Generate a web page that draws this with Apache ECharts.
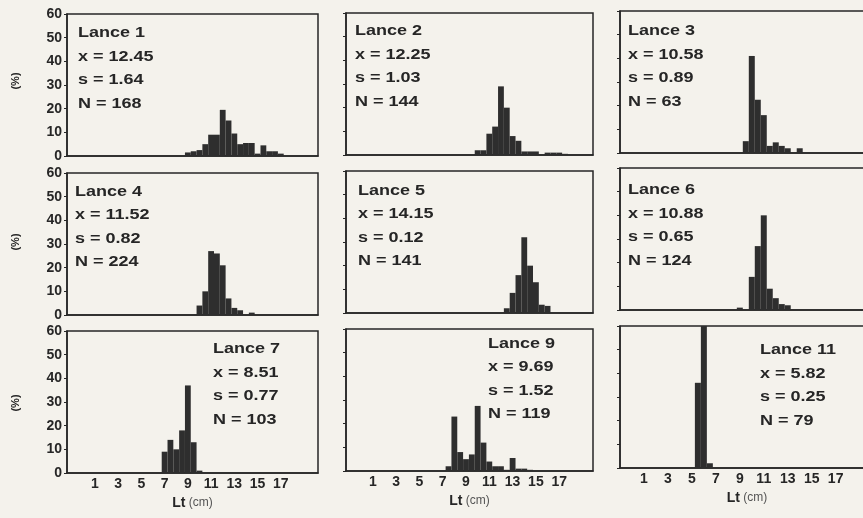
<!DOCTYPE html>
<html>
<head>
<meta charset="utf-8">
<script src="https://cdn.jsdelivr.net/npm/echarts@6/dist/echarts.min.js"></script>
<style>
  html, body { margin: 0; padding: 0; background: #f4f2ec; }
  #chart { width: 863px; height: 518px; }
</style>
</head>
<body>
<div id="chart"></div>
<script>
// Length-frequency distributions (% per 0.5 cm class) for each haul.
// Each pair is [length class centre (cm), percentage].
const lance1  = [[9, 1.5], [9.5, 2], [10, 2.5], [10.5, 5], [11, 9], [11.5, 9], [12, 19.5], [12.5, 15], [13, 9.5], [13.5, 5], [14, 5.5], [14.5, 5.5], [15, 1], [15.5, 4.5], [16, 2], [16.5, 2], [17, 1]];
const lance2  = [[10, 2], [10.5, 2], [11, 9], [11.5, 12], [12, 29], [12.5, 20], [13, 8], [13.5, 6], [14, 1.5], [14.5, 1.5], [15, 1.5], [16, 1], [16.5, 1], [17, 1], [17.5, 0.5]];
const lance3  = [[9.5, 5], [10, 41], [10.5, 22.5], [11, 16], [11.5, 3], [12, 4.5], [12.5, 3], [13, 2], [14, 2]];
const lance4  = [[10, 4], [10.5, 10], [11, 27], [11.5, 26], [12, 21], [12.5, 7], [13, 3], [13.5, 2], [14.5, 1]];
const lance5  = [[12.5, 2], [13, 8.5], [13.5, 16], [14, 32], [14.5, 20], [15, 13], [15.5, 3.5], [16, 3]];
const lance6  = [[9, 1], [10, 14], [10.5, 27], [11, 40], [11.5, 9], [12, 5], [12.5, 2.5], [13, 2]];
const lance7  = [[7, 9], [7.5, 14], [8, 10], [8.5, 18], [9, 37], [9.5, 13], [10, 1]];
const lance9  = [[7.5, 2], [8, 23], [8.5, 8], [9, 5], [9.5, 7], [10, 27.5], [10.5, 12], [11, 4], [11.5, 2], [12, 2], [12.5, 0.5], [13, 5.5], [13.5, 1], [14, 1], [14.5, 0.5]];
const lance11 = [[5.5, 36], [6, 60], [6.5, 2]];

// Summary statistics printed in each panel
const haulNames = ['Lance 1', 'Lance 2', 'Lance 3', 'Lance 4', 'Lance 5', 'Lance 6', 'Lance 7', 'Lance 9', 'Lance 11'];
const haulMeans = [12.45, 12.25, 10.58, 11.52, 14.15, 10.88, 8.51, 9.69, 5.82];
const haulSDs   = [1.64, 1.03, 0.89, 0.82, 0.12, 0.65, 0.77, 1.52, 0.25];
const haulNs    = [168, 144, 63, 224, 141, 124, 103, 119, 79];

// Axis ticks
const lengthTicks = [1, 3, 5, 7, 9, 11, 13, 15, 17];
const pctMax = 60;
const pctStep = 10;
const classWidth = 0.5;

const panels = [lance1, lance2, lance3, lance4, lance5, lance6, lance7, lance9, lance11];

// Layout of the 3x3 panel grid (pixels)
const colLeft  = [67, 346, 620];
const colWidth = [251, 247, 254];
const colMin   = [-1.4, -1.3, -1.0];
const colMax   = [20.2, 19.9, 20.2];
const rowTop   = [[14, 173, 331], [13, 171, 329], [11, 168, 326]]; // per column
const plotH    = 142;

// Stats text block placement (left edge, centre of first line)
const textX = [78, 355, 628, 75, 358, 628, 213, 488, 760];
const textY = [33, 31, 31, 191.5, 190.5, 190, 349, 343.5, 350];
const lineGap = 23.5;

const ink = '#262626';
const barFill = '#2e2e2e';
const fontFamily = '"Liberation Sans", Arial, Helvetica, sans-serif';

function renderBar(params, api) {
  const centre = api.value(0);
  const pct = api.value(1);
  const topLeft = api.coord([centre - classWidth / 2, pct]);
  const bottomRight = api.coord([centre + classWidth / 2, 0]);
  return {
    type: 'rect',
    shape: {
      x: topLeft[0],
      y: topLeft[1],
      width: bottomRight[0] - topLeft[0],
      height: bottomRight[1] - topLeft[1]
    },
    style: { fill: barFill }
  };
}

const grids = [], xAxes = [], yAxes = [], series = [], texts = [];

panels.forEach((data, i) => {
  const row = Math.floor(i / 3);
  const col = i % 3;

  grids.push({
    left: colLeft[col],
    width: colWidth[col],
    top: rowTop[col][row],
    height: plotH,
    show: true,
    borderColor: ink,
    borderWidth: 1.5,
    backgroundColor: 'transparent',
    containLabel: false,
    outerBoundsMode: 'none'
  });

  xAxes.push({
    gridIndex: i,
    type: 'value',
    min: colMin[col],
    max: colMax[col],
    splitLine: { show: false },
    axisLine: { show: true, onZero: false, lineStyle: { color: ink, width: 1.5 } },
    axisTick: { show: false },
    axisLabel: {
      show: row === 2,
      customValues: lengthTicks,
      margin: 4,
      color: ink,
      fontSize: 14,
      fontWeight: 'bold',
      fontFamily: fontFamily
    },
    name: row === 2 ? '{a|Lt} {b|(cm)}' : '',
    nameLocation: 'middle',
    nameGap: 23,
    nameTextStyle: {
      rich: {
        a: { fontSize: 14, fontWeight: 'bold', color: ink, fontFamily: fontFamily },
        b: { fontSize: 12, color: '#555', fontFamily: fontFamily }
      }
    }
  });

  yAxes.push({
    gridIndex: i,
    type: 'value',
    min: 0,
    max: pctMax,
    interval: pctStep,
    splitLine: { show: false },
    axisLine: { show: true, onZero: false, lineStyle: { color: ink, width: 1.5 } },
    axisTick: { show: true, length: 3, lineStyle: { color: ink, width: 1 } },
    axisLabel: {
      show: col === 0,
      margin: 5,
      color: ink,
      fontSize: 14,
      fontWeight: 'bold',
      fontFamily: fontFamily
    }
  });

  series.push({
    type: 'custom',
    xAxisIndex: i,
    yAxisIndex: i,
    renderItem: renderBar,
    encode: { x: 0, y: 1 },
    clip: true,
    silent: true,
    data: data
  });

  const lines = [
    haulNames[i],
    'x = ' + haulMeans[i].toFixed(2),
    's = ' + haulSDs[i].toFixed(2),
    'N = ' + haulNs[i]
  ];
  lines.forEach((t, k) => {
    texts.push({
      type: 'text',
      x: textX[i],
      y: textY[i] + k * lineGap,
      scaleX: 1.2,
      silent: true,
      style: {
        text: t,
        font: 'bold 15px ' + fontFamily,
        fill: ink,
        align: 'left',
        verticalAlign: 'middle',
        textAlign: 'left',
        textVerticalAlign: 'middle'
      }
    });
  });
});

// "(%)" axis titles, one per row
[81, 242, 403].forEach(y => {
  texts.push({
    type: 'text',
    x: 16,
    y: y,
    rotation: Math.PI / 2,
    silent: true,
    style: {
      text: '(%)',
      font: 'bold 11px ' + fontFamily,
      fill: ink,
      align: 'center',
      verticalAlign: 'middle',
      textAlign: 'center',
      textVerticalAlign: 'middle'
    }
  });
});

const chart = echarts.init(document.getElementById('chart'), null, { renderer: 'canvas' });
chart.setOption({
  backgroundColor: '#f4f2ec',
  animation: false,
  grid: grids,
  xAxis: xAxes,
  yAxis: yAxes,
  series: series,
  graphic: { elements: texts }
});
</script>
</body>
</html>
